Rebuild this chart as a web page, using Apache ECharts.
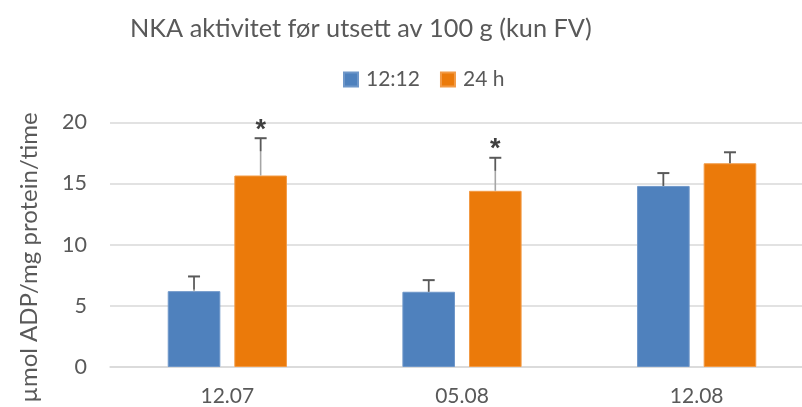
<!DOCTYPE html>
<html>
<head>
<meta charset="utf-8">
<script src="https://cdn.jsdelivr.net/npm/echarts@6/dist/echarts.min.js"></script>
<style>
  html, body { margin: 0; padding: 0; background: #fff; overflow: hidden; }
  /* the plot runs past the right edge of the picture, so the canvas is wider than the window */
  #chart { width: 830px; height: 407px; }
</style>
</head>
<body>
<div id="chart"></div>
<script>
// data
var categories = ['12.07', '05.08', '12.08'];
var seriesNames = ['12:12', '24 h'];
var values1212 = [6.2, 6.15, 14.8];
var values24h = [15.65, 14.4, 16.65];
var errTop1212 = [7.4, 7.1, 15.85];
var errTop24h = [18.7, 17.1, 17.55];
var stars24h = ['*', '*', ''];
var yTicks = [0, 5, 10, 15, 20];

var BAR_W = 52.6;
var BAR_GAP = 14;
var textColor = '#595959';
var font = 'Lato, "Liberation Sans", sans-serif';

function Chart(divId) {
	var myChart = echarts.init(document.getElementById(divId));
	var chartOption;

	// error bar, upper part only, plus optional star
	function errorSeries(name, tops, values, side, stars) {
		var data = [];
		for (var i = 0; i < tops.length; i++) {
			data.push([i, values[i], tops[i], stars ? stars[i] : '']);
		}
		return {
			type: 'custom',
			name: name,
			z: 5,
			silent: true,
			data: data,
			renderItem: function (params, api) {
				var x = api.coord([api.value(0), 0])[0] + side * (BAR_W + BAR_GAP) / 2;
				var yLow = api.coord([api.value(0), api.value(1)])[1];
				var yHigh = api.coord([api.value(0), api.value(2)])[1];
				var darkEnd = Math.min(yLow, yHigh + 13);
				var children = [
					{ type: 'line', shape: { x1: x, y1: yLow, x2: x, y2: yHigh },
						style: { stroke: '#a6a6a6', lineWidth: 1.6 } },
					{ type: 'line', shape: { x1: x, y1: darkEnd, x2: x, y2: yHigh },
						style: { stroke: '#595959', lineWidth: 1.6 } },
					{ type: 'line', shape: { x1: x - 6, y1: yHigh, x2: x + 6, y2: yHigh },
						style: { stroke: '#595959', lineWidth: 2 } }
				];
				var star = data[params.dataIndex][3];
				if (star) {
					children.push({ type: 'text', x: x, y: yHigh - 8,
						style: { text: star, fill: '#404040', font: 'bold 27px "Liberation Sans", sans-serif',
							textAlign: 'center', textVerticalAlign: 'middle' } });
				}
				return { type: 'group', children: children };
			}
		};
	}

	function initOption() {
		chartOption = {
			animation: false,
			backgroundColor: '#fff',
			textStyle: { fontFamily: font },
			title: {
				text: 'NKA aktivitet før utsett av 100 g (kun FV)',
				left: 125,
				top: 11,
				textStyle: { fontSize: 25.3, fontWeight: 'normal', color: textColor, fontFamily: font }
			},
			legend: {
				data: seriesNames,
				left: 338,
				top: 64,
				icon: 'rect',
				itemWidth: 14,
				itemHeight: 14,
				itemGap: 20,
				textStyle: { fontSize: 21, color: textColor, fontFamily: font, padding: [0, 0, 0, 3] }
			},
			grid: { left: 110, top: 122.3, width: 704, height: 245.4 },
			xAxis: {
				type: 'category',
				data: categories,
				axisLine: { lineStyle: { color: '#d9d9d9', width: 1.5 } },
				axisTick: { show: false },
				axisLabel: { fontSize: 21, color: textColor, margin: 19, fontFamily: font }
			},
			yAxis: {
				type: 'value',
				min: yTicks[0],
				max: yTicks[yTicks.length - 1],
				interval: 5,
				axisLine: { show: false },
				axisTick: { show: false },
				axisLabel: { fontSize: 21.5, color: textColor, margin: 23, fontFamily: font },
				splitLine: { lineStyle: { color: '#d9d9d9', width: 1.5 } }
			},
			graphic: [{
				type: 'text',
				x: 29,
				y: 257.5,
				rotation: Math.PI / 2,
				style: {
					text: 'µmol ADP/mg protein/time',
					font: '24px ' + font,
					fill: textColor,
					textAlign: 'center',
					textVerticalAlign: 'middle'
				}
			}],
			series: [
				{
					name: seriesNames[0], type: 'bar', data: values1212,
					barWidth: BAR_W, barGap: (BAR_GAP / BAR_W * 100) + '%',
					itemStyle: { color: '#4f81bd', borderColor: '#6f97c9', borderWidth: 1 }
				},
				{
					name: seriesNames[1], type: 'bar', data: values24h,
					barWidth: BAR_W,
					itemStyle: { color: '#eb7a0a', borderColor: '#f29a45', borderWidth: 1 }
				},
				errorSeries('err1', errTop1212, values1212, -1, null),
				errorSeries('err2', errTop24h, values24h, 1, stars24h)
			]
		};
	}

	this.draw = function () {
		myChart.setOption(chartOption);
	};

	initOption();
}

var chart = new Chart('chart');
chart.draw();
</script>
</body>
</html>
